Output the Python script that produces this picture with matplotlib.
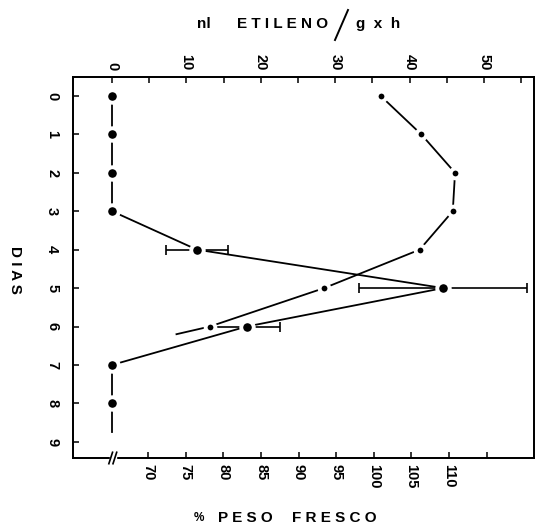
import matplotlib
matplotlib.use("Agg")
import matplotlib.pyplot as plt
import numpy as np

plt.rcParams['font.family'] = ['Liberation Sans', 'DejaVu Sans']
plt.rcParams['font.weight'] = 'bold'

# data
dias_etileno = [0, 1, 2, 3, 4, 5, 6, 7, 8]
etileno = [0, 0, 0, 0, 11.4, 44.5, 18.1, 0, 0]
etileno_err = [0, 0, 0, 0, 4.2, 11.3, 4.5, 0, 0]

dias_peso = [0, 1, 2, 3, 4, 5, 6]
peso = [100.9, 106.3, 110.8, 110.5, 106.1, 93.4, 78.2]
peso_dia7 = 56  # off-scale (below the axis break), only the start of the line shows

dias_ticks = list(range(10))
etileno_ticks = [0, 5, 10, 15, 20, 25, 30, 35, 40, 45, 50, 55]
etileno_labels = ['0', '', '10', '', '20', '', '30', '', '40', '', '50', '']
peso_ticks = [70, 75, 80, 85, 90, 95, 100, 105, 110, 115]
peso_labels = ['70', '75', '80', '85', '90', '95', '100', '105', '110', '']

W, H = 535, 528
fig = plt.figure(figsize=(W / 100, H / 100), dpi=100)
ax = fig.add_axes([73 / W, 70 / H, 461 / W, 381 / H])
ax2 = ax.twiny()

# fresh weight axis (bottom)
ax.set_xlim(60.0, 121.3)
ax.set_ylim(9.42, -0.49)
ax.set_xticks(peso_ticks)
ax.set_xticklabels(peso_labels, rotation=-90, fontsize=10.5)
ax.set_yticks(dias_ticks)
ax.set_yticklabels([str(d) for d in dias_ticks], rotation=-90, fontsize=10.5, va='center')
ax.tick_params(axis='x', direction='in', length=4, width=1.1, pad=4)
ax.tick_params(axis='y', direction='in', length=4, width=1.1, pad=10)

# ethylene axis (top)
ax2.set_xlim(-5.24, 56.7)
ax2.set_xticks(etileno_ticks)
ax2.set_xticklabels(etileno_labels, rotation=-90, fontsize=10.5)
ax2.tick_params(axis='x', direction='in', length=4.5, width=1.1, pad=5)

for a in (ax, ax2):
    for s in a.spines.values():
        s.set_linewidth(1.3)

mk_white = dict(markeredgecolor='white', markeredgewidth=2.8)

# ethylene: big dots with error bars
e = np.array(etileno)
err = np.array(etileno_err)
d = np.array(dias_etileno)
m = err > 0
ax2.errorbar(e[m], d[m], xerr=err[m], fmt='none', ecolor='black',
             elinewidth=1.2, capsize=3.5, capthick=1.2, zorder=2)
ax2.plot(e, d, color='black', lw=1.3, marker='o', markersize=9,
         markerfacecolor='black', zorder=3, **mk_white)
# line continues a bit past the last day
ax2.plot([e[-1], e[-1]], [d[-1] + 0.2, d[-1] + 0.75], color='black', lw=1.3)

# fresh weight: small dots
p = np.array(peso)
dp = np.array(dias_peso)
ax.set_zorder(ax2.get_zorder() + 1)
ax.patch.set_visible(False)
frac = 0.2
ax.plot([p[-1], p[-1] + frac * (peso_dia7 - p[-1])], [dp[-1], dp[-1] + frac],
        color='black', lw=1.3, zorder=2)
ax.plot(p, dp, color='black', lw=1.3, marker='o', markersize=7,
        markerfacecolor='black', zorder=3, **mk_white)

# break on the bottom axis
bx = (113 - 73) / 461
ax.add_patch(plt.Rectangle((bx - 0.006, -0.01), 0.012, 0.02, transform=ax.transAxes,
                           color='white', clip_on=False, zorder=10))
for off in (-0.005, 0.004):
    ax.plot([bx + off - 0.004, bx + off + 0.004], [-0.015, 0.015], color='black',
            lw=1.2, transform=ax.transAxes, clip_on=False, zorder=11)

# axis titles
fig.text(15 / W, 1 - 270 / H, 'D I A S', rotation=-90, fontsize=11,
         ha='center', va='center')
fig.text(204 / W, 1 - 24 / H, 'nl', fontsize=11, ha='center', va='center')
fig.text(283 / W, 1 - 24 / H, 'E T I L E N O', fontsize=11, ha='center', va='center')
fig.add_artist(plt.Line2D([335 / W, 348 / W], [1 - 40 / H, 1 - 10 / H],
                          color='black', lw=1.4))
fig.text(378 / W, 1 - 24 / H, 'g  x  h', fontsize=11, ha='center', va='center')
fig.text(199 / W, 1 - 518 / H, '%', fontsize=8.5, ha='center', va='center')
fig.text(245 / W, 1 - 518 / H, 'P E S O', fontsize=11, ha='center', va='center')
fig.text(334 / W, 1 - 518 / H, 'F R E S C O', fontsize=11, ha='center', va='center')

fig.savefig('out.png', dpi=100)
